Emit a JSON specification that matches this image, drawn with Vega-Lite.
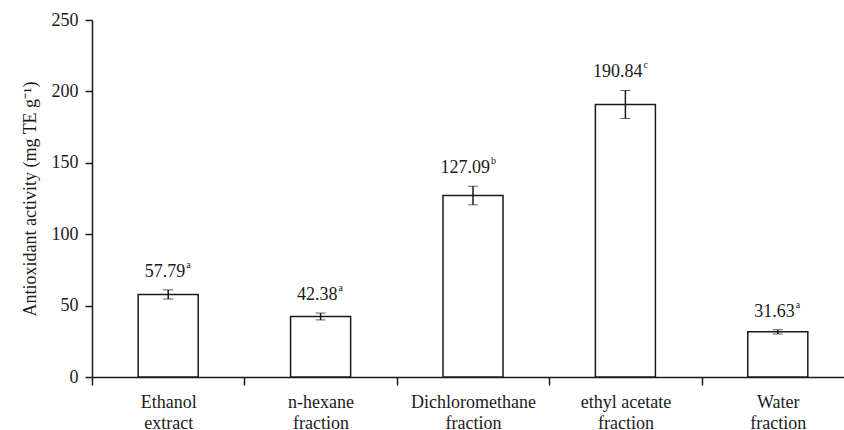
{
  "$schema": "https://vega.github.io/schema/vega-lite/v6.json",
  "width": 752,
  "height": 357,
  "autosize": {"type": "none"},
  "padding": {"left": 92, "top": 20, "right": 0, "bottom": 53},
  "background": "white",
  "config": {"view": {"stroke": null}},
  "data": {
    "values": [
      {"cat": "Ethanol extract", "mean": 57.79, "err": 3.2, "sig": "a"},
      {"cat": "n-hexane fraction", "mean": 42.38, "err": 2.4, "sig": "a"},
      {"cat": "Dichloromethane fraction", "mean": 127.09, "err": 6.5, "sig": "b"},
      {"cat": "ethyl acetate fraction", "mean": 190.84, "err": 9.8, "sig": "c"},
      {"cat": "Water fraction", "mean": 31.63, "err": 1.5, "sig": "a"}
    ]
  },
  "encoding": {
    "x": {
      "field": "cat",
      "type": "nominal",
      "sort": null,
      "scale": {"range": [0, 762], "paddingInner": 0, "paddingOuter": 0},
      "axis": {
        "title": null,
        "labelAngle": 0,
        "labelFont": "Liberation Serif",
        "labelFontSize": 18,
        "labelColor": "#1a1a1a",
        "labelLineHeight": 21,
        "labelPadding": 8,
        "tickBand": "extent",
        "tickSize": 8,
        "tickWidth": 1.5,
        "tickColor": "#1a1a1a",
        "domainColor": "#1a1a1a",
        "domainWidth": 1.5,
        "grid": false,
        "labelExpr": "[slice(datum.label, 0, lastindexof(datum.label, ' ')), slice(datum.label, lastindexof(datum.label, ' ') + 1)]"
      }
    },
    "y": {
      "field": "mean",
      "type": "quantitative",
      "scale": {"domain": [0, 250]},
      "title": "Antioxidant activity (mg TE g⁻¹)",
      "axis": {
        "title": "Antioxidant activity (mg TE g⁻¹)",
        "titleFont": "Liberation Serif",
        "titleFontSize": 18,
        "titleFontWeight": "normal",
        "titleColor": "#1a1a1a",
        "titlePadding": 12,
        "labelFont": "Liberation Serif",
        "labelFontSize": 18,
        "labelColor": "#1a1a1a",
        "labelPadding": 7,
        "tickSize": 7,
        "tickWidth": 1.5,
        "tickColor": "#1a1a1a",
        "domainColor": "#1a1a1a",
        "domainWidth": 1.5,
        "grid": false,
        "values": [0, 50, 100, 150, 200, 250]
      }
    }
  },
  "layer": [
    {
      "mark": {"type": "bar", "width": {"band": 0.394}, "fill": "white", "stroke": "#1a1a1a", "strokeWidth": 1.5}
    },
    {
      "mark": {"type": "errorbar", "ticks": {"size": 10, "color": "#1a1a1a", "strokeWidth": 1.5}, "rule": {"color": "#1a1a1a", "strokeWidth": 1.5}, "color": "#1a1a1a"},
      "encoding": {
        "yError": {"field": "err"}
      }
    },
    {
      "transform": [{"calculate": "datum.mean + datum.err", "as": "top"}],
      "mark": {"type": "text", "font": "Liberation Serif", "align": "right", "baseline": "alphabetic", "dx": 17, "dy": -13, "fontSize": 18, "color": "#1a1a1a"},
      "encoding": {
        "y": {"field": "top", "type": "quantitative"},
        "text": {"field": "mean", "type": "quantitative", "format": ".2f"}
      }
    },
    {
      "transform": [{"calculate": "datum.mean + datum.err", "as": "top"}],
      "mark": {"type": "text", "font": "Liberation Serif", "align": "left", "baseline": "alphabetic", "dx": 18, "dy": -22, "fontSize": 10, "color": "#1a1a1a"},
      "encoding": {
        "y": {"field": "top", "type": "quantitative"},
        "text": {"field": "sig"}
      }
    }
  ]
}
